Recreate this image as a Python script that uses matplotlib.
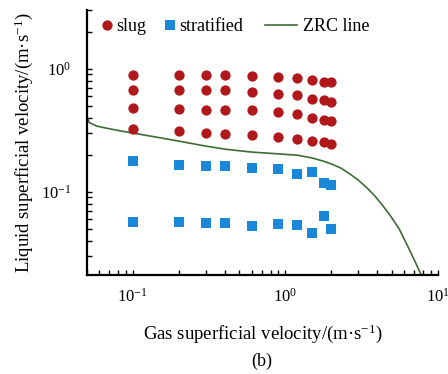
import matplotlib
matplotlib.use("Agg")
import matplotlib.pyplot as plt
from matplotlib.ticker import LogLocator, NullFormatter
from matplotlib.lines import Line2D

plt.rcParams['font.family'] = ['Liberation Serif', 'DejaVu Serif']
plt.rcParams['mathtext.fontset'] = 'custom'
plt.rcParams['mathtext.rm'] = 'Liberation Serif'
plt.rcParams['mathtext.it'] = 'Liberation Serif:italic'
plt.rcParams['mathtext.bf'] = 'Liberation Serif:bold'

# ---- data ----
gas_velocity = [0.1, 0.2, 0.3, 0.4, 0.6, 0.9, 1.2, 1.5, 1.8, 2.0]

slug_row1 = [0.885, 0.885, 0.885, 0.885, 0.869, 0.857, 0.837, 0.806, 0.780, 0.776]
slug_row2 = [0.668, 0.668, 0.668, 0.668, 0.647, 0.628, 0.616, 0.571, 0.553, 0.536]
slug_row3 = [0.482, 0.474, 0.465, 0.459, 0.459, 0.448, 0.431, 0.400, 0.385, 0.375]
slug_row4 = [0.323, 0.311, 0.300, 0.296, 0.291, 0.278, 0.270, 0.256, 0.253, 0.245]

strat_row1 = [0.179, 0.166, 0.163, 0.162, 0.156, 0.152, 0.140, 0.145, 0.118, 0.114]
strat_row2 = [0.057, 0.0563, 0.0552, 0.0552, 0.0522, 0.0542, 0.0532, 0.0458, 0.0638, 0.0497]

zrc_x = [0.05, 0.052, 0.058, 0.0655, 0.08, 0.1, 0.15, 0.2, 0.3, 0.4, 0.6, 0.9,
         1.2, 1.5, 1.8, 2.05, 2.32, 2.63, 2.98, 3.38, 3.83, 4.34, 4.92, 5.57,
         6.16, 6.8, 7.7]
zrc_y = [0.41, 0.365, 0.342, 0.331, 0.315, 0.300, 0.275, 0.258, 0.235, 0.222,
         0.210, 0.203, 0.198, 0.188, 0.176, 0.166, 0.155, 0.140, 0.125, 0.109,
         0.093, 0.077, 0.0625, 0.0495, 0.0385, 0.0298, 0.0214]

slug_color = '#B0181C'
strat_color = '#1A87D9'
line_color = '#3D6B35'

fig = plt.figure(figsize=(4.48, 3.74), dpi=100)
ax = fig.add_axes([0.1935, 0.2647, 0.7845, 0.7083])

for row in [slug_row1, slug_row2, slug_row3, slug_row4]:
    ax.plot(gas_velocity, row, linestyle='none', marker='o', markersize=7.4,
            color=slug_color, markeredgewidth=0, zorder=3)
for row in [strat_row1, strat_row2]:
    ax.plot(gas_velocity, row, linestyle='none', marker='s', markersize=6.8,
            color=strat_color, markeredgewidth=0, zorder=3)
ax.plot(zrc_x, zrc_y, color=line_color, linewidth=1.2, zorder=2)

ax.set_xscale('log')
ax.set_yscale('log')
ax.set_xlim(0.05, 10)
ax.set_ylim(0.021, 3)

for s in ['top', 'right']:
    ax.spines[s].set_visible(False)
for s in ['left', 'bottom']:
    ax.spines[s].set_linewidth(1.6)

ax.xaxis.set_major_locator(LogLocator(base=10, numticks=10))
ax.yaxis.set_major_locator(LogLocator(base=10, numticks=10))
ax.xaxis.set_minor_locator(LogLocator(base=10, subs=range(2, 10), numticks=20))
ax.yaxis.set_minor_locator(LogLocator(base=10, subs=range(2, 10), numticks=20))
ax.xaxis.set_minor_formatter(NullFormatter())
ax.yaxis.set_minor_formatter(NullFormatter())

ax.tick_params(which='both', direction='in', width=1.0, length=3.5, labelsize=12)
ax.tick_params(axis='x', which='major', pad=9)
ax.tick_params(axis='y', which='major', pad=11)

ax.set_xlabel('Gas superficial velocity/(m·s$^{-1}$)', fontsize=13.5, labelpad=12)
ax.set_ylabel('Liquid superficial velocity/(m·s$^{-1}$)', fontsize=13.5, labelpad=4)

fig.text(0.584, 0.033, '(b)', fontsize=13, ha='center', va='center')

h_slug = Line2D([], [], linestyle='none', marker='o', markersize=7.4,
                color=slug_color, markeredgewidth=0)
h_strat = Line2D([], [], linestyle='none', marker='s', markersize=6.8,
                 color=strat_color, markeredgewidth=0)
h_line = Line2D([], [], color=line_color, linewidth=1.2)

leg1 = ax.legend([h_slug, h_strat], ['slug', 'stratified'], ncol=2,
                 loc='center left', bbox_to_anchor=(0.0415, 0.937),
                 frameon=False, fontsize=13, handlelength=0.6,
                 handletextpad=0.25, columnspacing=0.98, borderpad=0,
                 borderaxespad=0, numpoints=1)
ax.add_artist(leg1)
ax.legend([h_line], ['ZRC line'], loc='center left',
          bbox_to_anchor=(0.5076, 0.937), frameon=False, fontsize=13,
          handlelength=1.77, handletextpad=0.33, borderpad=0,
          borderaxespad=0)

fig.savefig('out.png', dpi=100)
